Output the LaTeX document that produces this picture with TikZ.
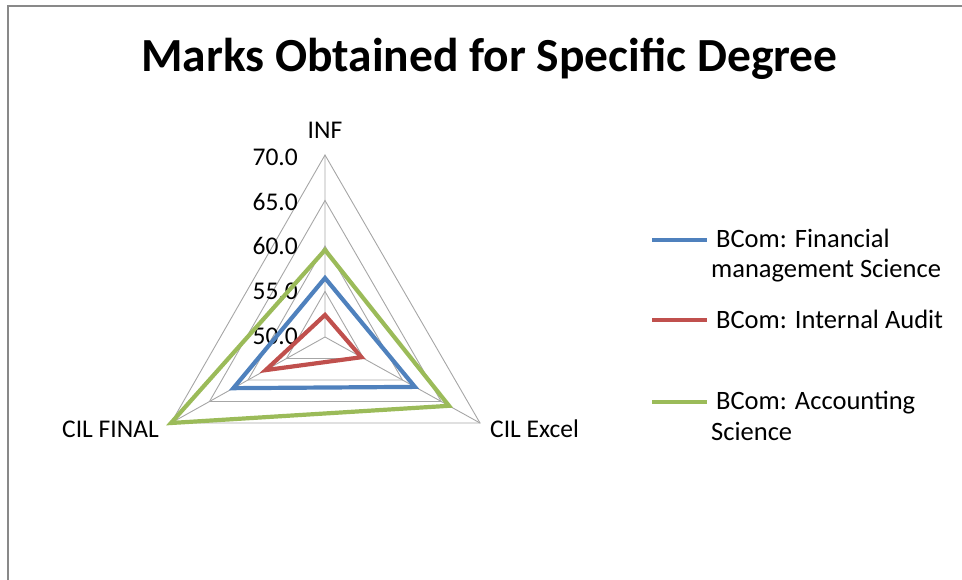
\documentclass[tikz,border=0pt]{standalone}
\usepackage{fontspec}
\setmainfont{Carlito}
\usetikzlibrary{calc,positioning}
\definecolor{serblue}{HTML}{4F81BD}
\definecolor{serred}{HTML}{C0504D}
\definecolor{sergreen}{HTML}{9BBB59}
\definecolor{gridgray}{HTML}{A6A6A6}
\definecolor{framegray}{HTML}{898989}
\tikzset{
  gridline/.style={draw=gridgray, line width=0.9pt},
  series/.style={line width=4.2pt, line join=miter},
  axislabel/.style={font=\fontsize{25.5}{30}\selectfont, inner sep=0pt},
  ticklabel/.style={font=\fontsize{25.5}{30}\selectfont, anchor=east, inner sep=0pt},
  legendtext/.style={font=\fontsize{26.5}{30.5}\selectfont, align=left, anchor=base west, inner sep=0pt},
  legendkey/.style={line width=4.2pt},
}
\begin{document}
\begin{tikzpicture}[x=1pt,y=-1pt]
\useasboundingbox (0,0) rectangle (962,580);

% Chart frame
\draw [framegray, line width=2.5pt] (8,580) -- (8,6) -- (962,6);%

% Title
\node (title) [anchor=base, font=\fontsize{47.5}{52}\selectfont\bfseries] at (489.5,72) {Marks Obtained for Specific Degree};%

% Spokes of the radar
\coordinate (c) at (325,337);
\coordinate (inf) at (325,155);
\coordinate (fin) at (171,423);
\coordinate (exc) at (480,423);
\draw [gridline] (c) -- (inf) (c) -- (fin) (c) -- (exc);%

% Drawing ring 55.0
\draw [gridline] ($(c)!0.25!(inf)$) -- ($(c)!0.25!(exc)$) -- ($(c)!0.25!(fin)$) -- cycle;%
% Drawing ring 60.0
\draw [gridline] ($(c)!0.5!(inf)$) -- ($(c)!0.5!(exc)$) -- ($(c)!0.5!(fin)$) -- cycle;%
% Drawing ring 65.0
\draw [gridline] ($(c)!0.75!(inf)$) -- ($(c)!0.75!(exc)$) -- ($(c)!0.75!(fin)$) -- cycle;%
% Drawing ring 70.0
\draw [gridline] (inf) -- (exc) -- (fin) -- cycle;%

% Marking ring values
\node (t70) [ticklabel] at (298,157) {70.0};%
\node (t65) [ticklabel] at (298,202) {65.0};%
\node (t60) [ticklabel] at (298,246) {60.0};%
\node (t55) [ticklabel] at (298,291) {55.0};%
\node (t50) [ticklabel] at (298,336) {50.0};%

% Marking axis names
\node (linf) [axislabel] at (325,130) {INF};%
\node (lfin) [axislabel, anchor=east] at (159,429) {CIL FINAL};%
\node (lexc) [axislabel, anchor=west] at (490,429) {CIL Excel};%

% Series BCom: Financial management Science
\draw [series, serblue] ($(c)!0.324!(inf)$) -- ($(c)!0.58!(exc)$) -- ($(c)!0.595!(fin)$) -- cycle;%
% Series BCom: Internal Audit
\draw [series, serred] ($(c)!0.121!(inf)$) -- ($(c)!0.235!(exc)$) -- ($(c)!0.385!(fin)$) -- cycle;%
% Series BCom: Accounting Science
\draw [series, sergreen] ($(c)!0.478!(inf)$) -- ($(c)!0.80!(exc)$) -- (fin) -- cycle;%

% Legend
\coordinate (ka) at (652,240); \coordinate (kb) at (707,240);
\draw [legendkey, serblue] (ka) -- (kb);%
\node (lega) [legendtext] at (711,278) {\hspace*{5pt}BCom: Financial\\management Science};%
\coordinate (kc) at (652,320); \coordinate (kd) at (707,320);
\draw [legendkey, serred] (kc) -- (kd);%
\node (legb) [legendtext] at (711,328) {\hspace*{5pt}BCom: Internal Audit};%
\coordinate (ke) at (652,402); \coordinate (kf) at (707,402);
\draw [legendkey, sergreen] (ke) -- (kf);%
\node (legc) [legendtext] at (711,440) {\hspace*{5pt}BCom: Accounting\\Science};%
\end{tikzpicture}
\end{document}
